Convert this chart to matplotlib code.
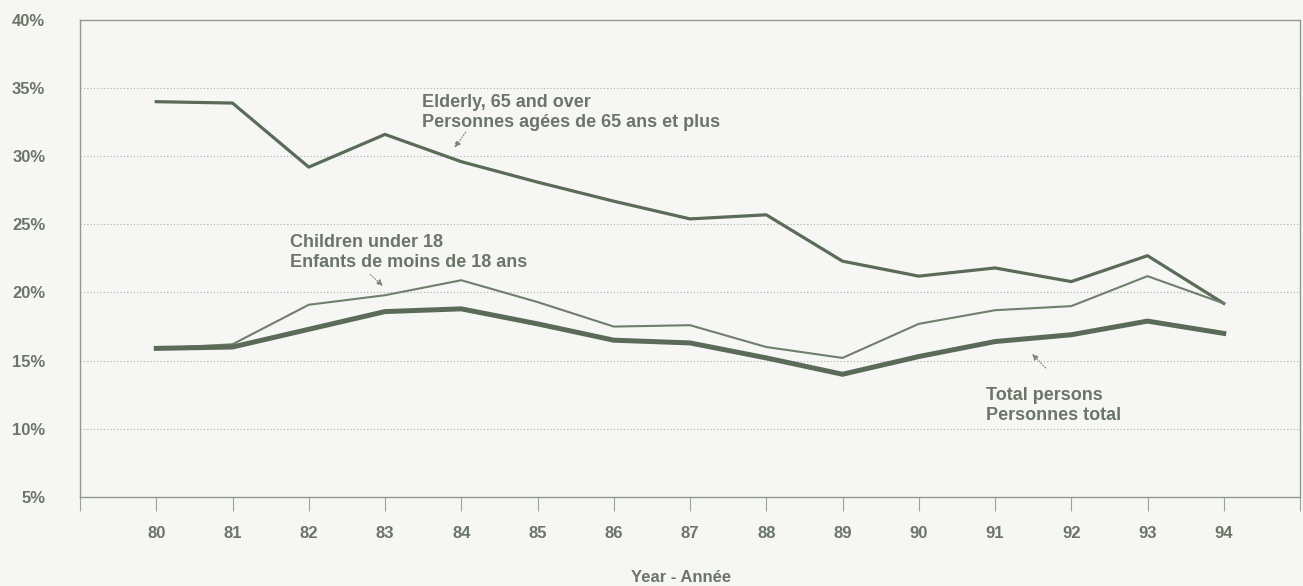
import matplotlib.pyplot as plt

# years 1980-1994, poverty rates in %
years = [80, 81, 82, 83, 84, 85, 86, 87, 88, 89, 90, 91, 92, 93, 94]
elderly = [34.0, 33.9, 29.2, 31.6, 29.6, 28.1, 26.7, 25.4, 25.7, 22.3, 21.2, 21.8, 20.8, 22.7, 19.2]
children = [15.9, 16.2, 19.1, 19.8, 20.9, 19.3, 17.5, 17.6, 16.0, 15.2, 17.7, 18.7, 19.0, 21.2, 19.2]
total = [15.9, 16.0, 17.3, 18.6, 18.8, 17.7, 16.5, 16.3, 15.2, 14.0, 15.3, 16.4, 16.9, 17.9, 17.0]
yticks = [5, 10, 15, 20, 25, 30, 35, 40]

txt = '#6b7568'
lc = '#5a6b58'
plt.rcParams['font.family'] = ['Liberation Sans', 'DejaVu Sans']

fig = plt.figure(figsize=(13.03, 5.86), dpi=100)
fig.patch.set_facecolor('#f6f7f5')
ax = fig.add_axes([0.0614, 0.152, 0.9363, 0.814])
ax.set_facecolor('#f6f7f5')

ax.plot(years, elderly, color=lc, lw=2.3)
ax.plot(years, children, color='#6f7f6c', lw=1.5)
ax.plot(years, total, color=lc, lw=3.6)

ax.set_xlim(79, 95)
ax.set_ylim(5, 40)
ax.set_yticks(yticks)
ax.set_yticklabels([f'{v}%' for v in yticks])
ax.set_xticks(range(79, 96))
ax.set_xticklabels([''] + [str(y) for y in years] + [''])
ax.tick_params(axis='y', length=0, pad=25, labelcolor=txt, labelsize=12)
ax.tick_params(axis='x', length=10, width=0.8, color='#9aa497', pad=11, labelcolor=txt, labelsize=12)
for lab in ax.get_xticklabels() + ax.get_yticklabels():
    lab.set_fontweight('bold')

for y in yticks[1:-1]:
    ax.axhline(y, color='#a9b0a6', lw=0.8, ls=(0, (1, 2)), zorder=0)
for s in ax.spines.values():
    s.set_color('#8f9a8c')
    s.set_linewidth(1.0)

fig.text(681 / 1303, 1 - 577 / 586, 'Year - Année', color=txt, fontsize=12,
         fontweight='bold', ha='center', va='center')

ap = dict(arrowstyle='-|>', color='#7a8477', lw=0.8, ls=':', mutation_scale=9)
lab_kw = dict(color=txt, fontsize=13, fontweight='bold', va='top', linespacing=1.25)

ax.text(83.48, 34.55, 'Elderly, 65 and over\nPersonnes agées de 65 ans et plus', **lab_kw)
ax.annotate('', xy=(83.89, 30.46), xytext=(84.08, 31.93), arrowprops=ap)

ax.text(81.75, 24.3, 'Children under 18\nEnfants de moins de 18 ans', **lab_kw)
ax.annotate('', xy=(83.0, 20.35), xytext=(82.78, 21.45), arrowprops=ap)

ax.text(90.88, 13.1, 'Total persons\nPersonnes total', **lab_kw)
ax.annotate('', xy=(91.46, 15.64), xytext=(91.69, 14.32), arrowprops=ap)

plt.savefig('out.png', dpi=100, facecolor=fig.get_facecolor())
